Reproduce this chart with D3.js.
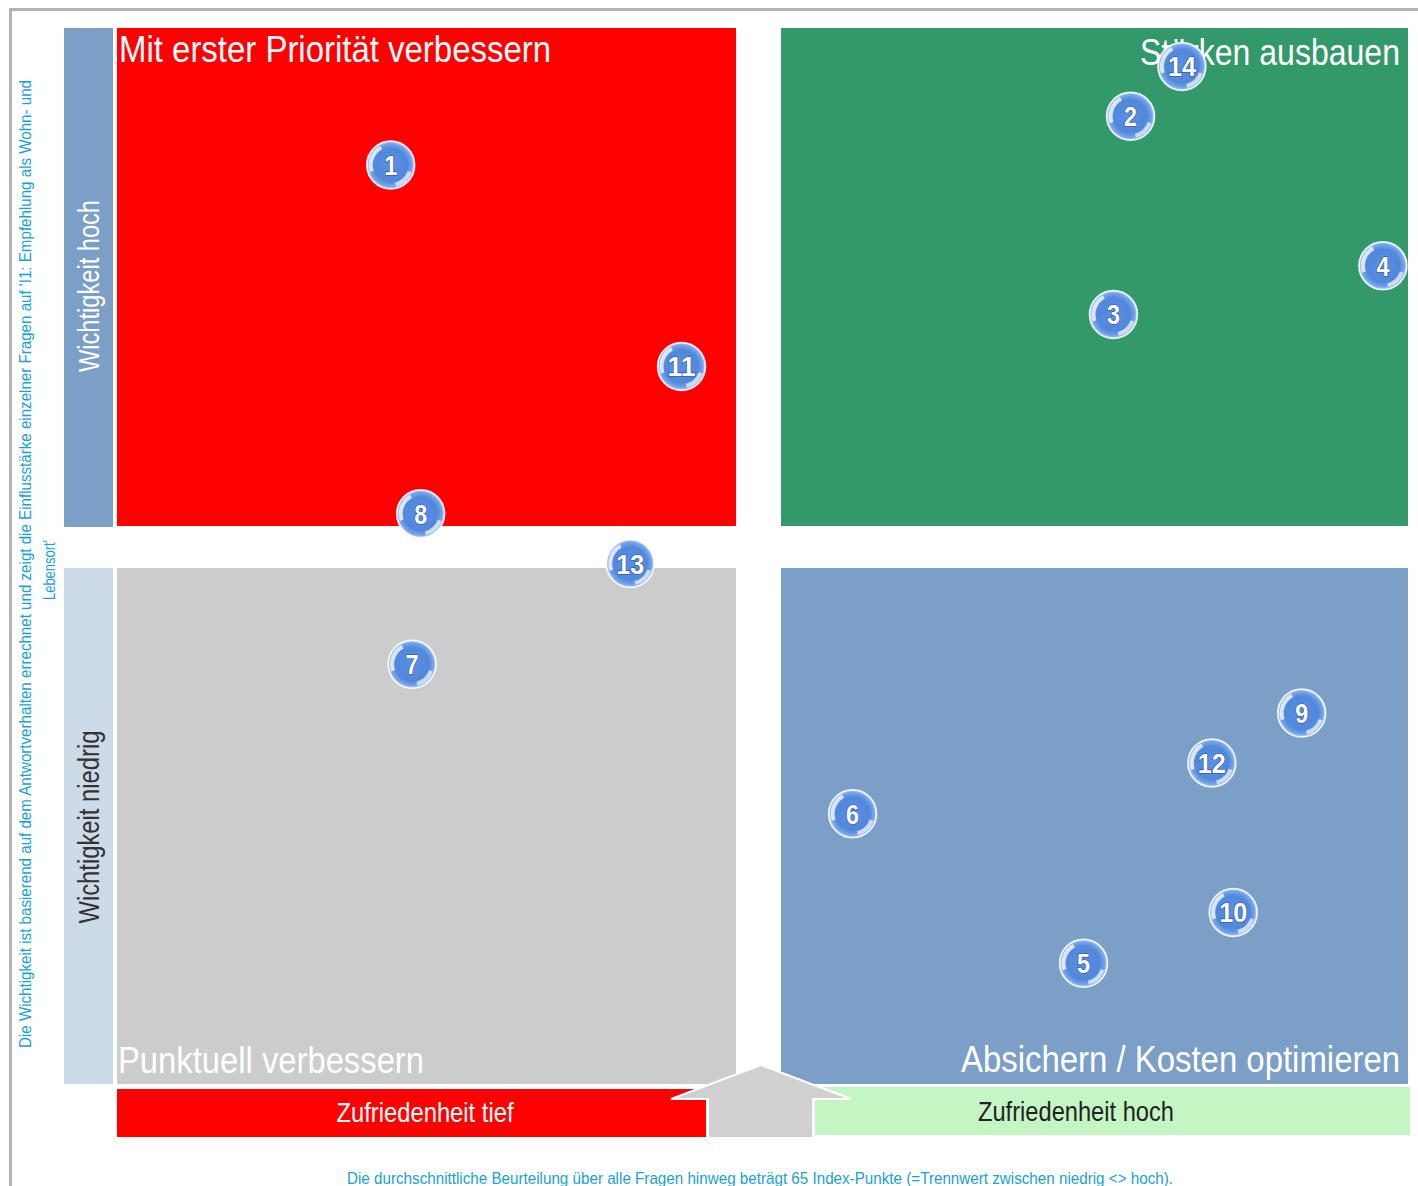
<!DOCTYPE html>
<html><head><meta charset="utf-8">
<script src="https://cdn.jsdelivr.net/npm/d3@7"></script>
<style>
html,body{margin:0;padding:0;background:#fff;}
svg{display:block;}
text{font-family:"Liberation Sans",Arial,sans-serif;}
</style></head>
<body>
<svg id="chart" width="1418" height="1186"></svg>
<script>
// ---- data ----
const ids = [1,2,3,4,5,6,7,8,9,10,11,12,13,14];
// Zufriedenheit (index points)
const satisfaction = [56.4,73.7,73.3,79.6,72.6,67.2,56.9,57.1,77.7,76.1,63.2,75.6,62.0,74.9];
// Wichtigkeit (relative importance 0..1)
const importance = [0.868,0.915,0.724,0.771,0.099,0.243,0.387,0.532,0.340,0.148,0.674,0.292,0.484,0.963];
const threshold = 65;
const importanceSplit = 0.5;
const quadrantTitles = ["Mit erster Priorität verbessern","Stärken ausbauen","Punktuell verbessern","Absichern / Kosten optimieren"];
const rowLabels = ["Wichtigkeit hoch","Wichtigkeit niedrig"];
const colLabels = ["Zufriedenheit tief","Zufriedenheit hoch"];
const sideNote = ["Die Wichtigkeit ist basierend auf dem Antwortverhalten errechnet und zeigt die Einflusstärke einzelner Fragen auf 'I1: Empfehlung als Wohn- und","Lebensort'"];
const bottomNote = "Die durchschnittliche Beurteilung über alle Fragen hinweg beträgt 65 Index-Punkte (=Trennwert zwischen niedrig <> hoch).";

const svg = d3.select("#chart");
const x = d3.scaleLinear().domain([50,80]).range([117,1400]);
const y = d3.scaleLinear().domain([0,1]).range([1066,28]);

function narrow(sel, len){ return sel.attr("textLength",len).attr("lengthAdjust","spacingAndGlyphs"); }

// frame
svg.append("rect").attr("x",10.5).attr("y",9.5).attr("width",1420).attr("height",1200)
  .attr("fill","none").attr("stroke","#b3b3b3").attr("stroke-width",3);

// quadrants
const quads = [
  {x0:117,x1:736,y0:28,y1:526,fill:"#ff0000"},
  {x0:781,x1:1408,y0:28,y1:526,fill:"#33996a"},
  {x0:117,x1:736,y0:568,y1:1084,fill:"#cccccc"},
  {x0:781,x1:1408,y0:568,y1:1084,fill:"#7b9fc6"}
];
svg.selectAll("rect.q").data(quads).join("rect").attr("class","q")
  .attr("x",d=>d.x0).attr("y",d=>d.y0).attr("width",d=>d.x1-d.x0).attr("height",d=>d.y1-d.y0)
  .attr("fill",d=>d.fill);

// left row bars
const rows = [{y0:28,y1:527,fill:"#7b9fc6",tc:"#ffffff",c:286,len:172},{y0:568,y1:1084,fill:"#cddbe9",tc:"#333333",c:827,len:193}];
svg.selectAll("rect.r").data(rows).join("rect").attr("class","r")
  .attr("x",64).attr("y",d=>d.y0).attr("width",49).attr("height",d=>d.y1-d.y0).attr("fill",d=>d.fill);
svg.selectAll("text.r").data(rows).join("text").attr("class","r")
  .attr("transform",d=>`translate(99,${d.c}) rotate(-90)`)
  .attr("text-anchor","middle").attr("font-size",29).attr("fill",d=>d.tc)
  .attr("textLength",d=>d.len).attr("lengthAdjust","spacingAndGlyphs")
  .text((d,i)=>rowLabels[i]);

// bottom col bars
svg.append("rect").attr("x",117).attr("y",1089).attr("width",589).attr("height",48).attr("fill","#ff0000");
svg.append("rect").attr("x",815).attr("y",1087).attr("width",595).attr("height",48).attr("fill","#c3f6c3");
narrow(svg.append("text").attr("x",425).attr("y",1122).attr("text-anchor","middle").attr("font-size",28).attr("fill","#fff").text(colLabels[0]),177);
narrow(svg.append("text").attr("x",1076).attr("y",1121).attr("text-anchor","middle").attr("font-size",28).attr("fill","#222").text(colLabels[1]),196);

// arrow
const arrowPts = [[761,1065],[851,1099],[813,1099],[813,1138],[708,1138],[708,1099],[671,1099]];
svg.append("path").attr("d",d3.line()(arrowPts)+"Z").attr("fill","#d0d0d0").attr("stroke","#fff").attr("stroke-width",2);

// quadrant titles
narrow(svg.append("text").attr("x",119).attr("y",62).attr("font-size",37).attr("fill","#fff").text(quadrantTitles[0]),432);
narrow(svg.append("text").attr("x",1400).attr("y",65).attr("text-anchor","end").attr("font-size",37).attr("fill","#fff").text(quadrantTitles[1]),260);
narrow(svg.append("text").attr("x",118).attr("y",1073).attr("font-size",37).attr("fill","#fff").text(quadrantTitles[2]),306);
narrow(svg.append("text").attr("x",1400).attr("y",1072).attr("text-anchor","end").attr("font-size",37).attr("fill","#fff").text(quadrantTitles[3]),439);

// side note
narrow(svg.append("text").attr("transform","translate(31,564) rotate(-90)").attr("text-anchor","middle")
  .attr("font-size",16).attr("fill","#1a9fd6").text(sideNote[0]),968);
narrow(svg.append("text").attr("transform","translate(55,570) rotate(-90)").attr("text-anchor","middle")
  .attr("font-size",16).attr("fill","#1a9fd6").text(sideNote[1]),60);
// bottom note
narrow(svg.append("text").attr("x",760).attr("y",1184).attr("text-anchor","middle")
  .attr("font-size",17).attr("fill","#1a9fd6").text(bottomNote),826);

// bubbles
const defs = svg.append("defs");
const g1 = defs.append("radialGradient").attr("id","bub").attr("cx","50%").attr("cy","50%").attr("r","50%");
g1.append("stop").attr("offset","0%").attr("stop-color","#5a8fe2");
g1.append("stop").attr("offset","70%").attr("stop-color","#5288dc");
g1.append("stop").attr("offset","90%").attr("stop-color","#79a6ea");
g1.append("stop").attr("offset","100%").attr("stop-color","#dfeafb");
const data = ids.map((id,i)=>({id, s:satisfaction[i], w:importance[i]}));
const b = svg.selectAll("g.b").data(data).join("g").attr("class","b")
  .attr("transform",d=>`translate(${x(d.s)},${y(d.w)})`);
const R = 24;
b.append("circle").attr("r",R).attr("fill","url(#bub)").attr("stroke","#ffffff").attr("stroke-opacity",0.85).attr("stroke-width",1.5);
// highlights
b.append("path").attr("d",d3.arc()({innerRadius:R-6,outerRadius:R-2,startAngle:-1.9,endAngle:-0.5}))
  .attr("fill","#ffffff").attr("opacity",0.75);
b.append("path").attr("d",d3.arc()({innerRadius:R-6,outerRadius:R-2,startAngle:1.9,endAngle:2.9}))
  .attr("fill","#ffffff").attr("opacity",0.65);
b.append("text").attr("text-anchor","middle").attr("y",10).attr("font-size",28).attr("font-weight","bold")
  .attr("fill","#ffffff").attr("stroke","#2a4f8f").attr("stroke-width",1.2).attr("paint-order","stroke")
  .attr("textLength",d=>d.id>9?28:13).attr("lengthAdjust","spacingAndGlyphs")
  .text(d=>d.id);
</script>
</body></html>
